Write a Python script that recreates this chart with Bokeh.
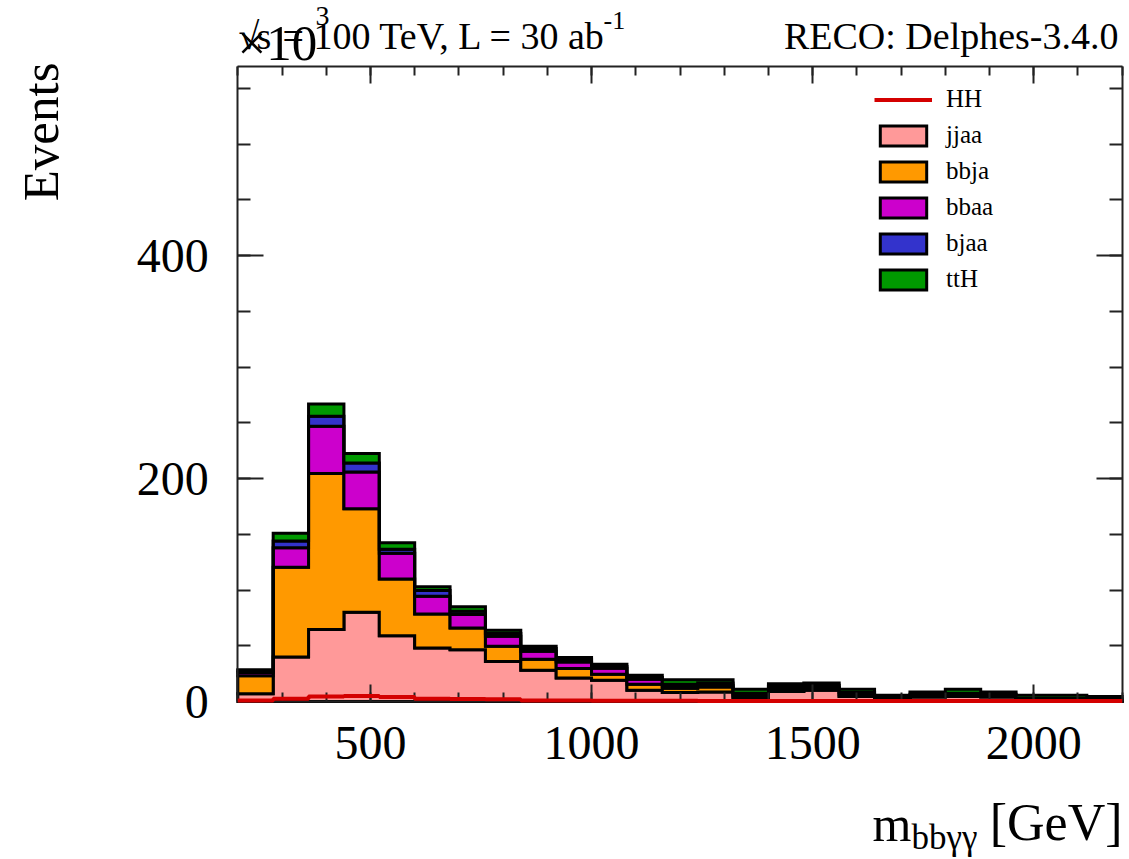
import numpy as np
from bokeh.plotting import figure
from bokeh.models import (Range1d, FixedTicker, LinearAxis, Label, Legend, LegendItem,
                          CustomJSTickFormatter)
from bokeh.embed import file_html
from bokeh.resources import INLINE

# ---------------- data ----------------
bin_lo, bin_hi, bin_w = 200, 2200, 80
jjaa = [7, 40, 64.5, 80, 59, 48, 46.5, 36, 28, 21, 19, 10, 8, 8.5, 3, 9, 10, 4.5, 0.5, 4, 4.5, 4, 0.5, 0.5, 0.3]
bbja = [16, 80.5, 140, 93, 51, 30.5, 19.5, 13.5, 10, 8.5, 5.5, 5.5, 4, 4.5, 1, 1, 1, 0.5, 0.5, 0.5, 0.5, 0.5, 0.3, 0.3, 0.2]
bbaa = [3, 17.5, 42.5, 33, 23, 16, 12, 9, 7, 6, 5.3, 4.5, 1.5, 1.5, 1.5, 1.5, 1.5, 1, 0.5, 0.5, 0.5, 0.5, 0.5, 0.5, 0.3]
bjaa = [1.5, 6, 9, 8, 3.5, 5, 3, 2.5, 2.5, 2, 1.7, 1.5, 2, 2, 2, 2, 2, 2, 1.5, 1.5, 2, 1.5, 1.5, 1.5, 1.5]
ttH = [1, 7, 11, 8.5, 6, 3.5, 4, 3, 2, 2, 2, 2, 4, 3, 3.5, 2.5, 2, 3, 2.5, 2, 3.5, 2, 2.7, 2.7, 2.2]
HH = [0.9, 2.5, 4.5, 5.0, 4.0, 2.5, 2.3, 2.0, 1.0, 0.8, 0.7, 0.6, 0.6, 0.5, 0.5, 0.5, 0.5, 0.5, 0.5, 0.5, 0.5, 0.5, 0.5, 0.5, 0.5]

names = ["jjaa", "bbja", "bbaa", "bjaa", "ttH"]
series = [jjaa, bbja, bbaa, bjaa, ttH]
colors = ["#FF9999", "#FF9900", "#CC00CC", "#3333CC", "#009900"]
hh_color = "#D40000"

y_lo, y_hi = 0, 570
x_major = [500, 1000, 1500, 2000]
y_major = [0, 200, 400]

FONT = "Liberation Serif"

# ---------------- geometry (canvas pixels) ----------------
W, H = 1129, 859
PL, PR, PT, PB = 237.3, 1121.7, 65.7, 701.0   # plot box inside the canvas
sx = (bin_hi - bin_lo) / (PR - PL)
sy = (y_hi - y_lo) / (PB - PT)
x_start, x_end = bin_lo - PL * sx, bin_hi + (W - PR) * sx
y_start, y_end = y_lo - (H - PB) * sy, y_hi + PT * sy

p = figure(width=W, height=H, output_backend="svg", toolbar_location=None,
           x_range=Range1d(x_start, x_end), y_range=Range1d(y_start, y_end),
           min_border=0, min_border_left=0, min_border_right=0,
           min_border_top=0, min_border_bottom=0,
           background_fill_color="white", border_fill_color="white")
p.grid.visible = False
p.outline_line_color = None

edges = np.arange(bin_lo, bin_hi + 1, bin_w)

# stacked histograms: each component is one patch (fill + black outline, ROOT style)
bottom = np.zeros(len(edges) - 1)
patches = []
for vals, col in zip(series, colors):
    top = bottom + np.array(vals, dtype=float)
    xs_top = np.repeat(edges, 2)[1:-1]
    ys_top = np.repeat(top, 2)
    xs = np.concatenate([xs_top, xs_top[::-1]])
    ys = np.concatenate([ys_top, np.repeat(bottom, 2)[::-1]])
    r = p.patch(x=xs, y=ys, fill_color=col, line_color="black", line_width=3,
                line_join="miter")
    patches.append(r)
    bottom = top

# HH signal (drawn above the axes, as ROOT does)
hh_arr = np.array(HH, dtype=float)
hh_r = p.step(x=edges, y=np.append(hh_arr, hh_arr[-1]), mode="after",
              line_color=hh_color, line_width=4, level="overlay")

# ---------------- axes (drawn at fixed locations around the plot box) ----------------
x_ticker = FixedTicker(ticks=x_major, minor_ticks=list(range(bin_lo, bin_hi + 1, 100)))
y_ticker = FixedTicker(ticks=y_major, minor_ticks=list(range(y_lo, y_hi + 1, 50)))
blank = CustomJSTickFormatter(code="return ''")

def style_axis(ax, major, minor):
    ax.axis_line_color = "#222222"
    ax.axis_line_width = 2
    ax.major_tick_line_color = "#222222"
    ax.minor_tick_line_color = "#222222"
    ax.major_tick_line_width = 2
    ax.minor_tick_line_width = 2
    ax.major_tick_in = major
    ax.major_tick_out = 0
    ax.minor_tick_in = minor
    ax.minor_tick_out = 0
    ax.major_label_text_font = FONT
    ax.major_label_text_color = "black"

xa = p.xaxis[0]
xa.ticker = x_ticker
xa.fixed_location = y_lo
xa.bounds = (bin_lo, bin_hi)
style_axis(xa, 17, 9)
xa.major_label_text_font_size = "48px"
xa.major_label_standoff = 25

ya = p.yaxis[0]
ya.ticker = y_ticker
ya.fixed_location = bin_lo
ya.bounds = (y_lo, y_hi)
style_axis(ya, 26, 13)
ya.major_label_text_font_size = "48px"
ya.major_label_standoff = 29

xa2 = LinearAxis(ticker=x_ticker, formatter=blank, fixed_location=y_hi, bounds=(bin_lo, bin_hi))
style_axis(xa2, 17, 9)
p.add_layout(xa2, "above")
ya2 = LinearAxis(ticker=y_ticker, formatter=blank, fixed_location=bin_hi, bounds=(y_lo, y_hi))
style_axis(ya2, 26, 13)
p.add_layout(ya2, "right")

# ---------------- texts ----------------
def dx(px):
    return x_start + px * sx

def dy(py):
    return y_end - py * sy

def lab(text, px, py, size, align="left"):
    # py is the wanted baseline (canvas px); Bokeh's box sits ~0.36 em lower
    p.add_layout(Label(x=dx(px), y=dy(py - 0.36 * size), text=text, text_font=FONT,
                       text_font_size=f"{size}px", text_align=align,
                       text_baseline="alphabetic", text_color="black"))

lab("\u00d710", 237, 61, 51)
lab("3", 315, 26, 28)
lab("\u221a", 238, 49, 38)
lab("s", 256, 49, 38)
lab("= 100 TeV, L = 30 ab", 282, 49, 38)
lab("-1", 603, 29, 26)
lab("RECO: Delphes-3.4.0", 1118, 49, 38, align="right")
p.add_layout(Label(x=dx(40), y=dy(62), text="Events", text_font=FONT,
                   text_font_size="51px", text_align="right", text_baseline="alphabetic",
                   angle=np.pi / 2, text_color="black"))
lab("m", 872, 841, 50)
lab("bb\u03b3\u03b3", 911, 850, 35)
lab("[GeV]", 1122, 841, 52, align="right")

# ---------------- legend ----------------
items = [LegendItem(label="HH", renderers=[hh_r])]
for nm, r in zip(names, patches):
    items.append(LegendItem(label=nm, renderers=[r]))

legend = Legend(items=items, location=(874, 566), orientation="vertical",
                glyph_width=58, glyph_height=25, label_height=25, spacing=8,
                padding=0, margin=0, border_line_color=None, background_fill_alpha=0,
                label_text_font=FONT, label_text_font_size="25px",
                label_text_color="black", label_standoff=14)
p.add_layout(legend)

open("out.html", "w").write(file_html(p, INLINE))
